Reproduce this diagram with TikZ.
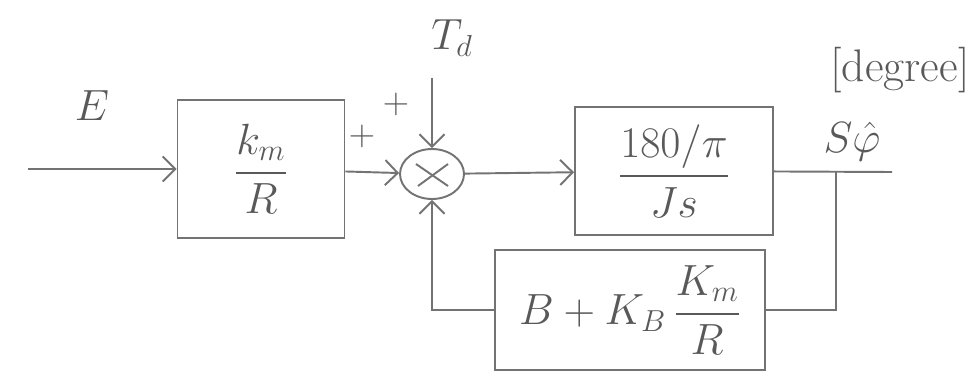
\documentclass[tikz,border=0pt]{standalone}
\usepackage{amsmath}
\usetikzlibrary{arrows.meta, positioning, shapes.geometric}

\begin{document}
\begin{tikzpicture}[x=0.02cm, y=-0.02cm,
    pencil/.style={draw=black!55, line width=1.1pt},
    block/.style={pencil, rectangle, text centered, text=black!65, font=\fontsize{26}{30}\selectfont},
    sumnode/.style={pencil, ellipse, minimum width=1.28cm, minimum height=1cm},
    tag/.style={text=black!65, inner sep=0pt, font=\fontsize{26}{30}\selectfont},
    sign/.style={text=black!65, inner sep=0pt, font=\fontsize{20}{24}\selectfont},
    arrow/.style={pencil, -{Straight Barb[length=2.5mm, width=5mm]}},
    line/.style={pencil}]
    \useasboundingbox (0,0) rectangle (979,382);
    % Nodes
    \node[block, minimum width=3.34cm, minimum height=2.76cm] (gain) at (261,169) {$\dfrac{k_m}{R}$};
    \node[sumnode] (sum) at (432,174) {};
    \node[block, minimum width=3.96cm, minimum height=2.56cm] (plant) at (674,171) {$\dfrac{180/\pi}{Js}$};
    \node[block, minimum width=5.4cm, minimum height=2.4cm] (fb) at (630,310) {$B + K_B\,\dfrac{K_m}{R}$};
    \coordinate (in) at (28,169);
    \coordinate (dist) at (432,78);
    \coordinate (tap) at (836,172);
    \coordinate (out) at (892,172);

    % Labels
    \node[tag] (e) at (92,106) {$E$};
    \node[tag] (td) at (452,38) {$T_d$};
    \node[sign] (plus1) at (362,136) {$+$};
    \node[sign] (plus2) at (396,104) {$+$};
    \node[tag] (speed) at (852,142) {$S\hat{\varphi}$};
    \node[tag] (unit) at (900,70) {[degree]};

    % Arrows
    \draw[arrow] (in) -- (gain);
    \draw[arrow] (gain) -- (sum);
    \draw[arrow] (dist) -- (sum);
    \draw[arrow] (sum) -- (plant);
    \draw[line] (plant) -- (out);
    \draw[line] (tap) |- (fb);
    \draw[arrow] (fb) -| (sum);
    % cross inside the summing point
    \draw[line] ([shift={(-16,-10)}]sum.center) -- ([shift={(16,12)}]sum.center);
    \draw[line] ([shift={(-14,12)}]sum.center) -- ([shift={(16,-10)}]sum.center);
\end{tikzpicture}
\end{document}
